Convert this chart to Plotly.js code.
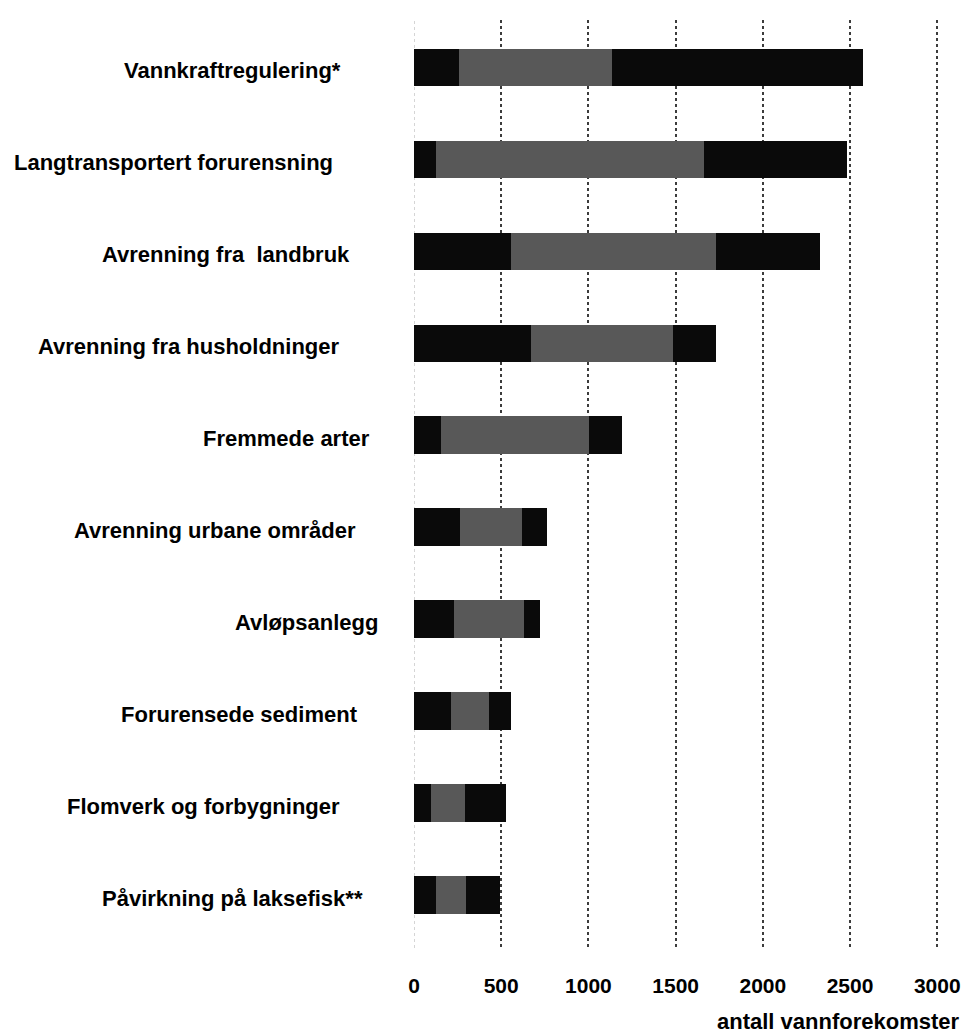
<!DOCTYPE html>
<html>
<head>
<meta charset="utf-8">
<script src="https://cdn.plot.ly/plotly-3.0.1.min.js"></script>
<style>
  html, body { margin: 0; padding: 0; background: #ffffff; }
  #chart { width: 967px; height: 1034px; }
</style>
</head>
<body>
<div id="chart"></div>
<script>
// ---- data ----
const categories = [
  "Vannkraftregulering*",
  "Langtransportert forurensning",
  "Avrenning fra\u00a0\u00a0landbruk",
  "Avrenning fra husholdninger",
  "Fremmede arter",
  "Avrenning urbane områder",
  "Avløpsanlegg",
  "Forurensede sediment",
  "Flomverk og forbygninger",
  "Påvirkning på laksefisk**"
];
const segment1 = [260, 125, 557, 672, 156, 261, 232, 213, 98, 127];
const segment2 = [875, 1535, 1172, 812, 846, 359, 396, 216, 192, 172];
const segment3 = [1440, 820, 600, 249, 192, 142, 95, 128, 239, 195];
const xTickValues = [0, 500, 1000, 1500, 2000, 2500, 3000];
const xAxisTitle = "antall vannforekomster";

// ---- styling (kept apart from data) ----
const FONT = '"Liberation Sans", Arial, Helvetica, sans-serif';
const labelRightEdges = [343, 335, 352, 342, 372, 358, 380, 360, 342, 365];
const plotLeft = 414;

const barStyle = { width: 0.41, orientation: 'h', hoverinfo: 'x+y', showlegend: false };
const traces = [
  Object.assign({ name: 'Del 1', y: categories, x: segment1, marker: { color: '#0a0a0a' } }, barStyle, { type: 'bar' }),
  Object.assign({ name: 'Del 2', y: categories, x: segment2, marker: { color: '#585858' } }, barStyle, { type: 'bar' }),
  Object.assign({ name: 'Del 3', y: categories, x: segment3, marker: { color: '#0a0a0a' } }, barStyle, { type: 'bar' })
];

const annotations = categories.map((c, i) => ({
  text: c, xref: 'paper', yref: 'y', x: 0, y: c,
  xanchor: 'right', yanchor: 'middle',
  xshift: labelRightEdges[i] - plotLeft, yshift: -3,
  showarrow: false,
  font: { family: FONT, size: 22, color: '#000', weight: 700 }
}));
annotations.push({
  text: xAxisTitle, xref: 'paper', yref: 'paper', x: 1, y: 0,
  xanchor: 'right', yanchor: 'middle', xshift: 23, yshift: -73,
  showarrow: false,
  font: { family: FONT, size: 22, color: '#000', weight: 700 }
});

// faint dotted line at the value axis origin
const shapes = [{
  type: 'line', layer: 'below', xref: 'x', yref: 'paper',
  x0: xTickValues[0], x1: xTickValues[0], y0: 0, y1: 1,
  line: { color: '#c8c8c8', width: 1.5, dash: 'dot' }
}];

const layout = {
  width: 967, height: 1034,
  margin: { l: plotLeft, r: 27.8, t: 20, b: 86 },
  paper_bgcolor: '#ffffff', plot_bgcolor: '#ffffff',
  barmode: 'stack',
  showlegend: false,
  xaxis: {
    range: [0, 3010], tickvals: xTickValues,
    showgrid: true, gridcolor: '#3c3c3c', gridwidth: 2, griddash: 'dot',
    zeroline: false, showline: false,
    ticks: 'outside', ticklen: 19, tickcolor: 'rgba(0,0,0,0)',
    tickfont: { family: FONT, size: 21, color: '#000', weight: 700 },
    fixedrange: true
  },
  yaxis: {
    type: 'category', range: [9.576, -0.517],
    showticklabels: false, showgrid: false, zeroline: false, showline: false,
    fixedrange: true
  },
  shapes: shapes,
  annotations: annotations,
  font: { family: FONT, color: '#000' }
};

Plotly.newPlot('chart', traces, layout, { displayModeBar: false, staticPlot: true });
</script>
</body>
</html>
